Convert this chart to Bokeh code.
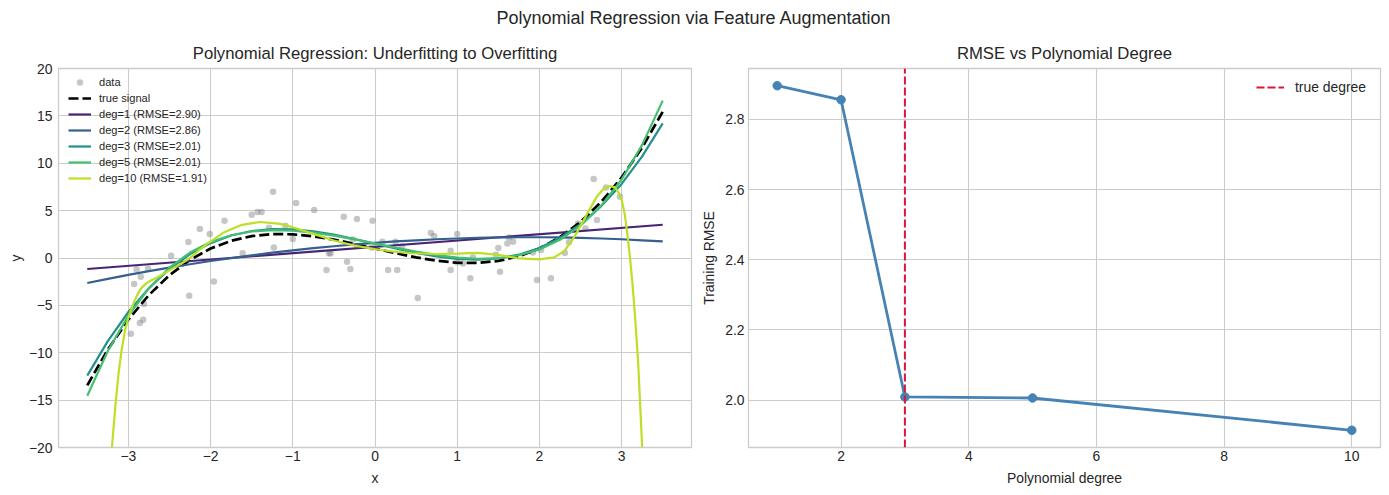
import numpy as np
from bokeh.plotting import figure
from bokeh.models import (Range1d, Div, Legend, LegendItem,
                          CustomJSTickFormatter, FixedTicker)
from bokeh.layouts import column, row
from bokeh.embed import file_html
from bokeh.resources import INLINE

# ---------------- data ----------------
DATA_X = [-2.97, -2.93, -2.90, -2.86, -2.85, -2.82, -2.81, -2.76, -2.48, -2.27,
          -2.26, -2.13, -2.01, -1.96, -1.83, -1.61, -1.50, -1.43, -1.38, -1.29,
          -1.24, -1.23, -1.09, -1.00, -0.96, -0.74, -0.59, -0.56, -0.54, -0.38,
          -0.34, -0.30, -0.27, -0.22, -0.03, -0.04, 0.09, 0.16, 0.25, 0.27,
          0.33, 0.52, 0.68, 0.72, 0.92, 0.92, 1.00, 1.00, 1.07, 1.16,
          1.19, 1.47, 1.50, 1.52, 1.61, 1.63, 1.68, 1.92, 1.97, 2.02,
          2.14, 2.31, 2.36, 2.47, 2.56, 2.66, 2.70, 2.81, 2.98]
DATA_Y = [-7.99, -2.74, -1.20, -6.86, -1.97, -6.51, -4.86, -1.13, 0.24, 1.69,
          -3.98, 3.06, 2.53, -2.47, 3.94, 0.49, 4.57, 4.85, 4.85, 3.20,
          7.00, 1.12, 3.41, 2.00, 5.80, 5.07, -1.27, 0.49, 0.49, 4.36,
          -0.39, -1.16, 1.95, 4.12, 3.94, 1.12, 1.72, -1.27, 1.72, -1.27,
          1.22, -4.22, 2.64, 2.32, 0.77, -1.27, 2.53, -0.46, -0.57, -2.15,
          0.07, 0.35, 1.05, -1.45, 1.54, 2.17, 1.72, 0.59, -2.32, 0.84,
          -2.15, 0.53, 1.65, 3.65, 3.12, 8.34, 4.01, 7.45, 6.47]

GRID_X = [-3.5, -3.25, -3.0, -2.75, -2.5, -2.25, -2.0, -1.75, -1.5, -1.25,
          -1.0, -0.75, -0.5, -0.25, 0.0, 0.25, 0.5, 0.75, 1.0, 1.25,
          1.5, 1.75, 2.0, 2.25, 2.5, 2.75, 3.0, 3.25, 3.5]
TRUE_Y = [-13.44, -9.66, -6.50, -3.90, -1.81, -0.20, 1.00, 1.82, 2.31, 2.52,
          2.50, 2.29, 1.94, 1.49, 1.00, 0.51, 0.06, -0.29, -0.50, -0.52,
          -0.31, 0.18, 1.00, 2.20, 3.81, 5.90, 8.50, 11.66, 15.44]
DEG1_X = [-3.5, 3.5]
DEG1_Y = [-1.16, 3.51]
DEG2_Y = [-2.64, -2.20, -1.78, -1.39, -1.01, -0.66, -0.32, -0.01, 0.28, 0.56,
          0.81, 1.04, 1.24, 1.43, 1.60, 1.75, 1.87, 1.98, 2.06, 2.12,
          2.17, 2.19, 2.19, 2.17, 2.12, 2.06, 1.98, 1.87, 1.75]
DEG3_Y = [-12.42, -8.77, -5.70, -3.18, -1.16, 0.41, 1.57, 2.37, 2.85, 3.05,
          3.02, 2.81, 2.46, 2.01, 1.51, 1.01, 0.54, 0.16, -0.10, -0.18,
          -0.05, 0.35, 1.05, 2.11, 3.56, 5.45, 7.82, 10.73, 14.21]
DEG5_Y = [-14.54, -9.82, -6.08, -3.20, -1.02, 0.57, 1.68, 2.40, 2.80, 2.94,
          2.88, 2.67, 2.36, 1.96, 1.53, 1.09, 0.67, 0.31, 0.04, -0.08,
          -0.02, 0.29, 0.90, 1.92, 3.41, 5.50, 8.29, 11.94, 16.61]
DEG10_X = [-3.20, -3.16, -3.12, -3.08, -3.04, -3.00, -2.96, -2.92, -2.88, -2.84,
           -2.78, -2.72, -2.64, -2.56, -2.48, -2.40, -2.32, -2.25, -2.15, -2.04,
           -1.84, -1.62, -1.40, -1.15, -1.00, -0.75, -0.50, -0.25, 0.00, 0.20,
           0.45, 0.75, 1.00, 1.25, 1.50, 1.75, 2.00, 2.18, 2.30, 2.40,
           2.45, 2.57, 2.70, 2.78, 2.86, 2.92, 2.97, 3.00, 3.04, 3.07,
           3.10, 3.13, 3.16, 3.20, 3.25]
DEG10_Y = [-20.0, -15.8, -12.2, -9.6, -7.6, -6.3, -5.3, -4.4, -3.7, -3.15,
           -2.65, -2.35, -2.0, -1.6, -1.2, -0.8, -0.4, 0.0, 0.75, 1.5,
           2.7, 3.5, 3.8, 3.6, 3.25, 2.55, 1.85, 1.3, 0.95, 0.7,
           0.5, 0.42, 0.47, 0.55, 0.33, -0.05, -0.15, 0.07, 0.7, 1.9,
           2.6, 4.5, 6.5, 7.3, 7.6, 7.45, 6.8, 6.2, 4.5, 2.5,
           0.2, -2.5, -5.8, -10.8, -20.0]

DEGREES = [1, 2, 3, 5, 10]
RMSE = [2.896, 2.856, 2.009, 2.006, 1.914]
TRUE_DEGREE = 3

LEFT_X_TICKS = [-3, -2, -1, 0, 1, 2, 3]
LEFT_Y_TICKS = [-20, -15, -10, -5, 0, 5, 10, 15, 20]
RIGHT_X_TICKS = [2, 4, 6, 8, 10]
RIGHT_Y_TICKS = [2.0, 2.2, 2.4, 2.6, 2.8]

FIT_COLORS = ["#482475", "#355f8d", "#21918c", "#44bf70", "#bddf26"]

FONT = "Liberation Sans"
TXT = "#262626"
GRID = "#cccccc"
FRAME_H = 379


def style(p, xl, yl, ystand, ylabstand):
    p.title.text_font = FONT
    p.title.text_font_size = "16.7px"
    p.title.text_font_style = "normal"
    p.title.text_color = TXT
    p.title.align = "center"
    p.title.standoff = 11
    p.background_fill_color = "white"
    p.border_fill_color = "white"
    p.outline_line_color = GRID
    p.outline_line_width = 1.3
    for g in (p.xgrid, p.ygrid):
        g.grid_line_color = GRID
        g.grid_line_width = 1.1
    for ax in (p.xaxis, p.yaxis):
        ax.axis_line_color = None
        ax.major_tick_line_color = None
        ax.minor_tick_line_color = None
        ax.major_tick_out = 0
        ax.major_tick_in = 0
        ax.minor_tick_out = 0
        ax.minor_tick_in = 0
        ax.major_label_text_font = FONT
        ax.major_label_text_font_size = "13.9px"
        ax.major_label_text_color = TXT
        ax.axis_label_text_font = FONT
        ax.axis_label_text_font_size = "13.9px"
        ax.axis_label_text_font_style = "normal"
        ax.axis_label_text_color = TXT
    p.xaxis.axis_label = xl
    p.yaxis.axis_label = yl
    p.xaxis.major_label_standoff = 3
    p.xaxis.axis_label_standoff = 6
    p.yaxis.major_label_standoff = ystand
    p.yaxis.axis_label_standoff = ylabstand


def pad(lo, hi):
    d = (hi - lo) * 0.05
    return lo - d, hi + d


# ---------------- left panel ----------------
xl0, xl1 = pad(min(GRID_X), max(GRID_X))
p1 = figure(width=693, height=457, x_range=Range1d(xl0, xl1),
            y_range=Range1d(LEFT_Y_TICKS[0], LEFT_Y_TICKS[-1]),
            output_backend="svg", toolbar_location=None,
            title="Polynomial Regression: Underfitting to Overfitting",
            min_border_left=58, min_border_right=2,
            min_border_top=32, min_border_bottom=46)
style(p1, "x", "y", 6, 2)
p1.xaxis.ticker = FixedTicker(ticks=LEFT_X_TICKS)
p1.yaxis.ticker = FixedTicker(ticks=LEFT_Y_TICKS)
p1.xaxis.formatter = CustomJSTickFormatter(code="return String(tick).replace('-', '\u2212');")
p1.yaxis.formatter = CustomJSTickFormatter(code="return String(tick).replace('-', '\u2212');")

r_data = p1.scatter(DATA_X, DATA_Y, size=6.5, fill_color="gray",
                    fill_alpha=0.45, line_color=None)
r_true = p1.line(GRID_X, TRUE_Y, line_color="black", line_width=2.7,
                 line_dash="10 4")
fits = [(DEG1_X, DEG1_Y), (GRID_X, DEG2_Y), (GRID_X, DEG3_Y),
        (GRID_X, DEG5_Y), (DEG10_X, DEG10_Y)]
fit_renderers = []
for (fx, fy), col in zip(fits, FIT_COLORS):
    fit_renderers.append(p1.line(fx, fy, line_color=col, line_width=2.2))

items = [LegendItem(label="data", renderers=[r_data]),
         LegendItem(label="true signal", renderers=[r_true])]
for d, r, rr in zip(DEGREES, RMSE, fit_renderers):
    items.append(LegendItem(label=f"deg={d} (RMSE={r:.2f})", renderers=[rr]))
leg1 = Legend(items=items, location=(10, FRAME_H - 6 - 112), margin=0, padding=0,
              glyph_width=23, glyph_height=16, label_height=16, spacing=0,
              label_standoff=8, label_text_font=FONT,
              label_text_font_size="11.1px", label_text_color=TXT,
              border_line_color=None, background_fill_alpha=0)
p1.add_layout(leg1)

# ---------------- right panel ----------------
xr0, xr1 = pad(min(DEGREES), max(DEGREES))
yr0, yr1 = pad(min(RMSE), max(RMSE))
p2 = figure(width=694, height=457, x_range=Range1d(xr0, xr1),
            y_range=Range1d(yr0, yr1),
            output_backend="svg", toolbar_location=None,
            title="RMSE vs Polynomial Degree",
            min_border_left=55, min_border_right=7,
            min_border_top=32, min_border_bottom=46)
style(p2, "Polynomial degree", "Training RMSE", 4, 5)
p2.xaxis.ticker = FixedTicker(ticks=RIGHT_X_TICKS)
p2.yaxis.ticker = FixedTicker(ticks=RIGHT_Y_TICKS)
p2.yaxis.formatter = CustomJSTickFormatter(code="return tick.toFixed(1);")

p2.line(DEGREES, RMSE, line_color="#4682b4", line_width=2.8)
p2.scatter(DEGREES, RMSE, size=8.5, fill_color="#4682b4", line_color="#4682b4")
r_td = p2.line([TRUE_DEGREE, TRUE_DEGREE], [yr0, yr1], line_color="#dc143c",
               line_width=2, line_dash="8 3")
leg2 = Legend(items=[LegendItem(label="true degree", renderers=[r_td])],
              location=(508, FRAME_H - 9 - 20), margin=0, padding=0,
              glyph_width=28, glyph_height=20, label_height=20,
              label_standoff=11, label_text_font=FONT,
              label_text_font_size="13.9px", label_text_color=TXT,
              border_line_color=None, background_fill_alpha=0)
p2.add_layout(leg2)

sup = Div(text="Polynomial Regression via Feature Augmentation",
          width=1387, height=36, margin=(0, 0, 0, 0),
          styles={"text-align": "center", "font-size": "18px",
                  "font-family": FONT, "color": TXT, "line-height": "36px",
                  "width": "1387px"})

layout = column(sup, row(p1, p2))
open("out.html", "w").write(file_html(layout, INLINE))
